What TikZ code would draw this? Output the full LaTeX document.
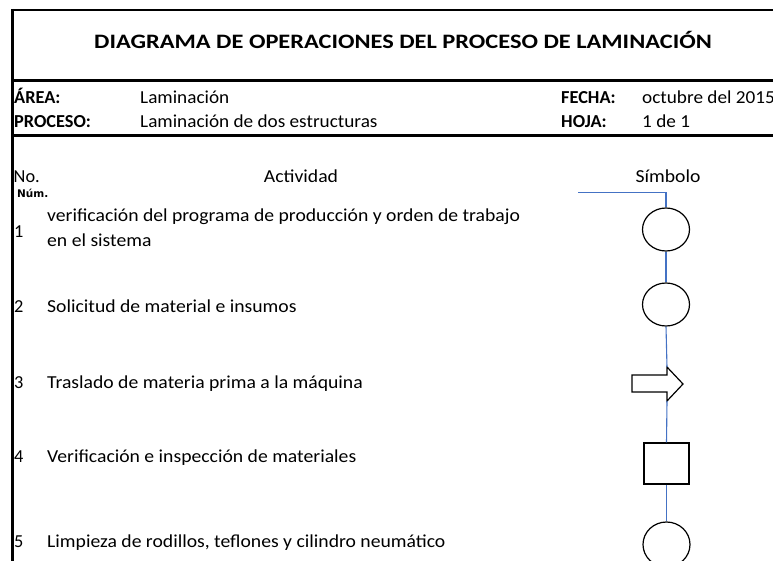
\documentclass[tikz,border=0pt]{standalone}
\usepackage{fontspec}
\usetikzlibrary{shapes.geometric}
\setmainfont{Carlito}
\newfontfamily\smallbold{DejaVu Sans}
\newcommand{\bodytx}[1]{\scalebox{1.075}[1]{#1}}
\newcommand{\headtx}[1]{\scalebox{1.05}[1]{#1}}
\begin{document}
\begin{tikzpicture}[x=1pt,y=-1pt,
  txt/.style={anchor=base west,inner sep=0pt,font=\fontsize{18.3}{20}\selectfont},
  lbl/.style={txt,font=\fontsize{18.3}{20}\selectfont\bfseries},
  sym/.style={draw=black,line width=1.2pt,fill=white},
  flow/.style={draw={rgb,255:red,68;green,114;blue,196},line width=1.1pt},
  frame/.style={draw=black,line width=3pt}]
\clip (0,0) rectangle (773,561);
\useasboundingbox (0,0) rectangle (773,561);
% frame
\draw[frame,line width=2.2pt] (11,10) -- (773,10);
\draw[frame,line width=3.6pt] (12.3,8.9) -- (12.3,561);
\draw[frame] (11,81) -- (773,81);
\draw[frame] (11,136) -- (773,136);
% title
\node[anchor=base,inner sep=0pt,font=\fontsize{20.5}{22}\selectfont\bfseries] (title) at (403,49) {\scalebox{1.19}[1]{DIAGRAMA DE OPERACIONES DEL PROCESO DE LAMINACIÓN}};
% header
\node[lbl] (area) at (14,104) {ÁREA:};
\node[txt] (areav) at (140,104) {\headtx{Laminación}};
\node[lbl] (proc) at (14,128) {PROCESO:};
\node[txt] (procv) at (140,128) {\headtx{Laminación de dos estructuras}};
\node[lbl] (fecha) at (561,104) {FECHA:};
\node[txt] (fechav) at (642,104) {\headtx{octubre del 2015}};
\node[lbl] (hoja) at (561,128) {HOJA:};
\node[txt] (hojav) at (642,128) {\headtx{1 de 1}};
% column heads
\node[txt] (no) at (13.5,183) {No.};
\node[anchor=base west,inner sep=0pt,font=\smallbold\fontsize{10.5}{11}\selectfont\bfseries] (num) at (17,198) {Núm.};
\node[txt,anchor=base] (act) at (301,183) {\bodytx{Actividad}};
\node[txt,anchor=base] (simb) at (668,183) {\bodytx{Símbolo}};
% rows
\node[txt] (n1) at (14,237) {1};
\node[txt] (t1a) at (47,222) {\bodytx{verificación del programa de producción y orden de trabajo}};
\node[txt] (t1b) at (47,247) {\bodytx{en el sistema}};
\node[txt] (n2) at (14,312) {2};
\node[txt] (t2) at (47,312) {\bodytx{Solicitud de material e insumos}};
\node[txt] (n3) at (14,388) {3};
\node[txt] (t3) at (47,388) {\bodytx{Traslado de materia prima a la máquina}};
\node[txt] (n4) at (14,462) {4};
\node[txt] (t4) at (47,462) {\bodytx{Verificación e inspección de materiales}};
\node[txt] (n5) at (14,547) {5};
\node[txt] (t5) at (47,547) {\bodytx{Limpieza de rodillos, teflones y cilindro neumático}};
% symbols
\coordinate (start) at (578,192.5);
\node[sym,ellipse,minimum width=47,minimum height=43,inner sep=0pt] (s1) at (666,229.5) {};
\node[sym,ellipse,minimum width=47,minimum height=43,inner sep=0pt] (s2) at (666,304.5) {};
\draw[sym] (632,375) -- (667,375) -- (667,367) -- (683,384) -- (667,401) -- (667,392) -- (632,392) -- cycle;
\coordinate (s3top) at (667,367);
\coordinate (s3bot) at (667,401);
\node[sym,rectangle,minimum width=45,minimum height=41,inner sep=0pt] (s4) at (666.5,463.5) {};
\node[sym,ellipse,minimum width=47,minimum height=45,inner sep=0pt] (s5) at (666.5,544.5) {};
% flow lines
\draw[flow] (start) -- (666,192.5) -- (s1.north);
\draw[flow] (s1.south) -- (s2.north);
\draw[flow] (s2.south) -- (s3top);
\draw[flow] (s3bot) -- (s4.north);
\draw[flow] (s4.south) -- (s5.north);
\end{tikzpicture}
\end{document}
